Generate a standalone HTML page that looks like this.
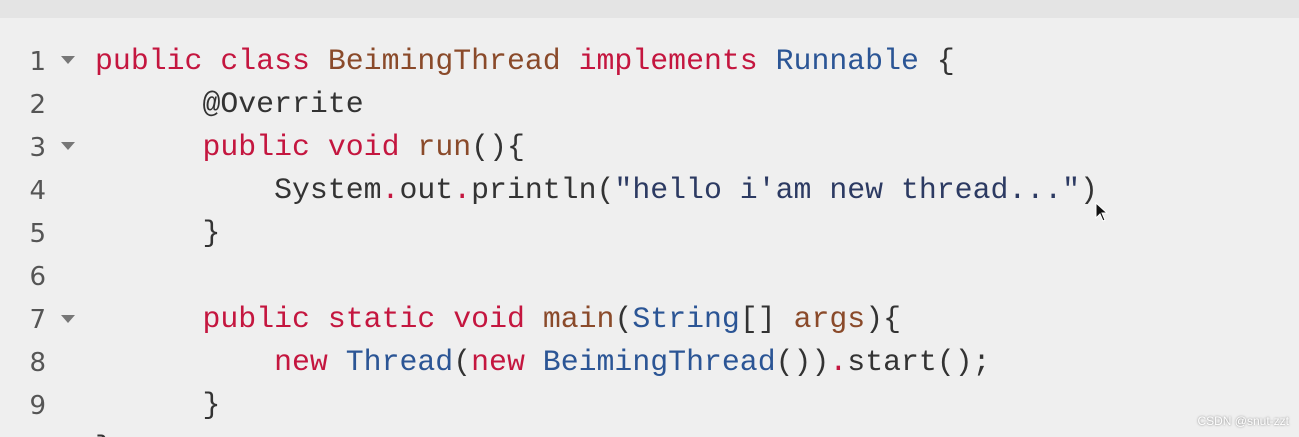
<!DOCTYPE html>
<html style="width:1299px;height:437px;overflow:hidden"><head><style>
html,body{margin:0;padding:0;}
body{width:1299px;height:437px;background:#efefef;position:relative;overflow:hidden;font-family:"Liberation Mono","DejaVu Sans Mono",monospace;}
.top{position:absolute;left:0;top:0;width:1299px;height:18px;background:#e4e4e4;}
.ln{position:absolute;left:0;width:46px;text-align:right;font-family:"DejaVu Sans","Liberation Sans",sans-serif;font-size:26px;color:#555;line-height:43px;height:43px;overflow:hidden;}
.tri{position:absolute;left:61px;width:0;height:0;border-left:7px solid transparent;border-right:7px solid transparent;border-top:8px solid #777;}
.code{position:absolute;left:95px;top:40px;height:397px;overflow:hidden;font-size:29.85px;line-height:43px;white-space:pre;color:#333;}
.k{color:#c4163f}.c{color:#8a4a2a}.t{color:#2b5595}.s{color:#2c3a62}
.wm{position:absolute;right:10px;top:414px;font-family:"Liberation Sans",sans-serif;font-size:12px;color:#fff;text-shadow:0 0 2px #777;}
</style></head><body>
<div class="top"></div>
<div class="ln" style="top:41px">1</div>
<div class="ln" style="top:84px">2</div>
<div class="ln" style="top:127px">3</div>
<div class="ln" style="top:170px">4</div>
<div class="ln" style="top:213px">5</div>
<div class="ln" style="top:256px">6</div>
<div class="ln" style="top:299px">7</div>
<div class="ln" style="top:342px">8</div>
<div class="ln" style="top:385px">9</div>
<div class="ln" style="top:428px;height:9px">10</div>
<div class="tri" style="top:56px"></div>
<div class="tri" style="top:142px"></div>
<div class="tri" style="top:315px"></div>
<div class="code"><span class="k">public</span> <span class="k">class</span> <span class="c">BeimingThread</span> <span class="k">implements</span> <span class="t">Runnable</span> {
      @Overrite
      <span class="k">public</span> <span class="k">void</span> <span class="c">run</span>(){
          System<span class="k">.</span>out<span class="k">.</span>println(<span class="s">"hello i'am new thread..."</span>)
      }

      <span class="k">public</span> <span class="k">static</span> <span class="k">void</span> <span class="c">main</span>(<span class="t">String</span>[] <span class="c">args</span>){
          <span class="k">new</span> <span class="t">Thread</span>(<span class="k">new</span> <span class="t">BeimingThread</span>())<span class="k">.</span>start();
      }
}</div>
<svg style="position:absolute;left:1095px;top:202px" width="16" height="22"><path d="M1 1 L1 16 L5 12 L8 19 L10 18 L7 11 L12 11 Z" fill="#111" stroke="#fff" stroke-width="1"/></svg>
<div class="wm">CSDN @snut-zzt</div>
</body></html>
